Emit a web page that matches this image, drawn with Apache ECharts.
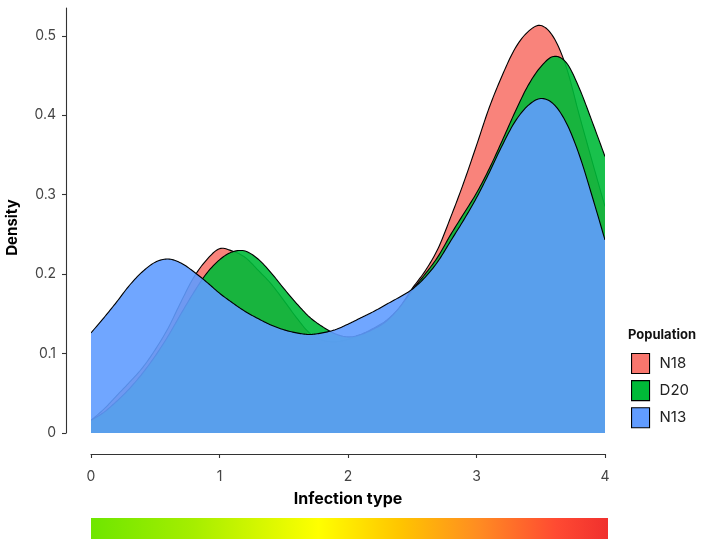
<!DOCTYPE html>
<html><head><meta charset="utf-8">
<script src="https://cdn.jsdelivr.net/npm/echarts@6/dist/echarts.min.js"></script>
<style>html,body{margin:0;padding:0;background:#fff}#c{width:707px;height:540px}</style>
</head><body><div id="c"></div>
<script>
const xValues = [0,0.1,0.2,0.3,0.4,0.5,0.6,0.7,0.8,0.9,1.0,1.1,1.2,1.3,1.4,1.5,1.6,1.7,1.8,1.9,2.0,2.1,2.2,2.3,2.4,2.5,2.6,2.7,2.8,2.9,3.0,3.1,3.2,3.3,3.4,3.5,3.6,3.7,3.8,3.9,4.0];
const seriesNames = ['N18','D20','N13'];
const n18 = [0.016,0.030,0.047,0.064,0.082,0.105,0.132,0.165,0.196,0.218,0.232,0.229,0.221,0.205,0.188,0.167,0.145,0.126,0.117,0.115,0.118,0.124,0.132,0.142,0.158,0.182,0.204,0.232,0.272,0.315,0.362,0.410,0.450,0.484,0.505,0.513,0.498,0.460,0.400,0.342,0.285];
const d20 = [0.016,0.026,0.040,0.056,0.075,0.097,0.122,0.150,0.177,0.201,0.218,0.228,0.229,0.219,0.202,0.182,0.163,0.146,0.134,0.125,0.121,0.124,0.131,0.141,0.158,0.180,0.200,0.222,0.250,0.276,0.302,0.333,0.368,0.404,0.437,0.461,0.474,0.466,0.434,0.392,0.348];
const n13 = [0.126,0.145,0.165,0.186,0.203,0.215,0.219,0.214,0.203,0.190,0.176,0.164,0.153,0.144,0.136,0.130,0.126,0.124,0.126,0.130,0.137,0.145,0.153,0.162,0.171,0.181,0.196,0.216,0.242,0.268,0.296,0.328,0.362,0.392,0.412,0.421,0.414,0.390,0.350,0.298,0.243];
const yTicks = [0,0.1,0.2,0.3,0.4,0.5];
const xTicks = [0,1,2,3,4];
const xTitle = 'Infection type';
const yTitle = 'Density';
const legendTitle = 'Population';

const FONT = 'Inter, "DejaVu Sans", sans-serif';
const colors = ['#F8766D','#00BA38','#619CFF'];
const values = [n18, d20, n13];

// Catmull-Rom rendering of a curve through pixel points (rendering only)
function splinePixels(pts, steps) {
  const out = [];
  const n = pts.length;
  for (let i = 0; i < n - 1; i++) {
    const p0 = pts[Math.max(i - 1, 0)], p1 = pts[i], p2 = pts[i + 1], p3 = pts[Math.min(i + 2, n - 1)];
    for (let s = 0; s < steps; s++) {
      const t = s / steps, t2 = t * t, t3 = t2 * t;
      const f = (a, b, c, d) => 0.5 * ((2 * b) + (-a + c) * t + (2 * a - 5 * b + 4 * c - d) * t2 + (-a + 3 * b - 3 * c + d) * t3);
      out.push([f(p0[0], p1[0], p2[0], p3[0]), f(p0[1], p1[1], p2[1], p3[1])]);
    }
  }
  out.push(pts[n - 1].slice());
  return out;
}

const chart = echarts.init(document.getElementById('c'), null, {renderer:'canvas'});

const series = seriesNames.map((name, k) => ({
  name, type:'custom', coordinateSystem:'cartesian2d',
  data: xValues.map((x,i)=>[x, values[k][i]]),
  encode:{x:0, y:1},
  itemStyle:{color:colors[k]},
  silent:true, clip:true,
  renderItem: function (params, api) {
    if (params.dataIndex !== 0) return null;
    const pts = xValues.map((x,i)=>api.coord([x, values[k][i]]));
    const curve = splinePixels(pts, 10);
    const b0 = api.coord([xValues[0], 0]);
    const b1 = api.coord([xValues[xValues.length-1], 0]);
    return {
      type:'group',
      children:[
        {type:'polygon', shape:{points: curve.concat([b1, b0])},
         style:{fill: colors[k], opacity:0.9, stroke:null}},
        {type:'polyline', shape:{points: curve},
         style:{stroke:'#000', lineWidth:1.1, fill:null}}
      ]
    };
  }
}));

chart.setOption({
  animation:false,
  grid:{left:91, right:102, top:8, bottom:107, outerBoundsMode:'none', containLabel:false},
  title:{text:legendTitle, left:628, top:329, padding:0,
    textStyle:{fontSize:13, fontWeight:'bold', color:'#111', fontFamily:FONT}},
  legend:{
    orient:'vertical', left:626, top:348, itemWidth:18, itemHeight:20, itemGap:6,
    selectedMode:false,
    data: seriesNames.map((n,k)=>({name:n, icon:'rect',
      itemStyle:{color:colors[k], borderColor:'#000', borderWidth:1.1}})),
    textStyle:{fontSize:15, color:'#222', fontFamily:FONT, padding:[0,0,0,5]}
  },
  xAxis:{
    type:'value', min:xTicks[0], max:xTicks[xTicks.length-1], interval:1, offset:21,
    axisLine:{show:true, onZero:false, lineStyle:{color:'#333', width:1.1}},
    axisTick:{show:true, length:4, lineStyle:{color:'#333', width:1.1}},
    splitLine:{show:false},
    axisLabel:{fontSize:14, color:'#444', margin:16, fontFamily:FONT},
    name:xTitle, nameLocation:'middle', nameGap:37,
    nameTextStyle:{fontSize:16, fontWeight:'bold', color:'#000', fontFamily:FONT}
  },
  yAxis:{
    type:'value', min:0, max:0.535, offset:25,
    axisLine:{show:true, onZero:false, lineStyle:{color:'#333', width:1.1}},
    axisTick:{show:true, length:4, customValues:yTicks, lineStyle:{color:'#333', width:1.1}},
    splitLine:{show:false},
    axisLabel:{customValues:yTicks, fontSize:14, color:'#444', margin:10, fontFamily:FONT},
    name:yTitle, nameLocation:'middle', nameGap:46,
    nameTextStyle:{fontSize:15, fontWeight:'bold', color:'#000', fontFamily:FONT, padding:[0,14,0,0]}
  },
  graphic:[{
    type:'rect', shape:{x:91, y:518, width:517, height:21}, silent:true,
    style:{fill:new echarts.graphic.LinearGradient(0,0,1,0,[
      {offset:0, color:'#6EE600'},
      {offset:0.2, color:'#A6EE00'},
      {offset:0.44, color:'#FFFF00'},
      {offset:0.6, color:'#FFC400'},
      {offset:0.75, color:'#FF8C22'},
      {offset:0.9, color:'#FF4A32'},
      {offset:1, color:'#F0302E'}
    ])}
  }],
  series
});
</script></body></html>
